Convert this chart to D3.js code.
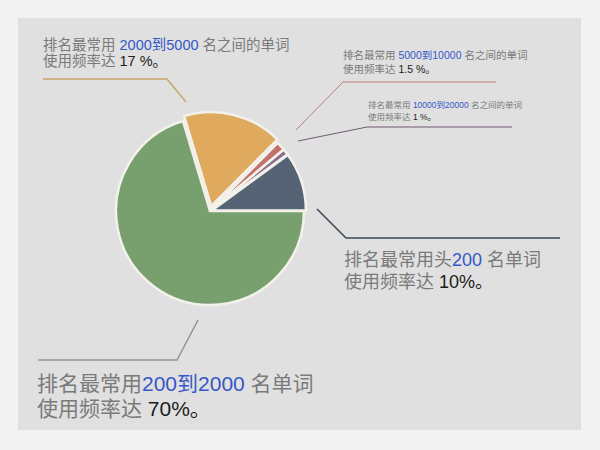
<!DOCTYPE html>
<html><head><meta charset="utf-8">
<script src="https://cdn.jsdelivr.net/npm/d3@7"></script>
<style>
html,body{margin:0;padding:0;background:#f2f2f3;}
svg{display:block;}
text{font-family:"Liberation Sans","Noto Sans CJK SC",sans-serif;}
</style></head>
<body>
<svg id="chart" width="600" height="450"></svg>
<script>
// Data (clockwise from the 3 o'clock position)
const categories = ["200到2000", "2000到5000", "5000到10000", "10000到20000", "200"];
const values = [70, 17, 1.5, 1, 10];
const colors = ["#789f6e", "#dfa95e", "#c2716b", "#8b6c8e", "#556375"];
const labelPrefix = ["排名最常用", "排名最常用 ", "排名最常用 ", "排名最常用 ", "排名最常用头"];
const labelSuffix = [" 名单词", " 名之间的单词", " 名之间的单词", " 名之间的单词", " 名单词"];
const pctText = ["70%。", "17 %。", "1.5 %。", "1 %。", "10%。"];

const svg = d3.select("#chart");
svg.append("rect").attr("width",600).attr("height",450).attr("fill","#f2f2f3");
svg.append("rect").attr("x",18).attr("y",18).attr("width",563).attr("height",412).attr("fill","#e0e0e0");

const cx = 210, cy = 211, R = 94;
const pie = d3.pie().sort(null).value(d=>d).startAngle(Math.PI/2).endAngle(Math.PI/2 + 2*Math.PI);
const arcs = pie(values);
const arc = d3.arc().innerRadius(0).outerRadius(R);
const explode = [0, 5, 2, 2, 2];

const g = svg.append("g").attr("transform",`translate(${cx},${cy})`);
g.selectAll("path").data(arcs).join("path")
  .attr("d", arc)
  .attr("fill", (d,i)=>colors[i])
  .attr("stroke", "#f3f1ea")
  .attr("stroke-width", 2.5)
  .attr("stroke-linejoin","miter")
  .attr("transform", (d,i)=>{
    const a = (d.startAngle + d.endAngle)/2;
    return `translate(${explode[i]*Math.sin(a)},${-explode[i]*Math.cos(a)})`;
  });

// leader lines: [start, bend, end] in px (layout)
const leaders = [
  {pts:[[198,320],[177,360],[38,360]], color:"#8a9a84", w:1.5},
  {pts:[[186,102],[167,79],[43,79]], color:"#c9a46a", w:1.5},
  {pts:[[296,130],[343,82],[496,82]], color:"#b88078", w:1},
  {pts:[[298,141],[367,127],[512,127]], color:"#6f5a72", w:1},
  {pts:[[317,209],[346,238],[560,238]], color:"#3b4656", w:1.5}
];
leaders.forEach(l=>{
  svg.append("path").attr("d", d3.line()(l.pts)).attr("fill","none")
    .attr("stroke", l.color).attr("stroke-width", l.w);
});

// labels: one text element per label, two lines as tspans
const labels = [
  {x:37, y:391, size:21, lh:24.5},
  {x:43, y:49.5, size:14.5, lh:16.8},
  {x:343, y:59, size:10.5, lh:14},
  {x:368, y:108, size:8.5, lh:11.5},
  {x:344, y:266, size:18, lh:21.5}
];
labels.forEach((p,i)=>{
  const t = svg.append("text").attr("x",p.x).attr("y",p.y).attr("font-size",p.size);
  t.append("tspan").attr("fill","#7a7a7a").text(labelPrefix[i]);
  t.append("tspan").attr("fill","#3557c8").text(categories[i]);
  t.append("tspan").attr("fill","#7a7a7a").text(labelSuffix[i]);
  t.append("tspan").attr("x",p.x).attr("dy",p.lh).attr("fill","#7a7a7a").text("使用频率达 ");
  t.append("tspan").attr("fill","#1c1c1c").text(pctText[i]);
});
</script>
</body></html>
